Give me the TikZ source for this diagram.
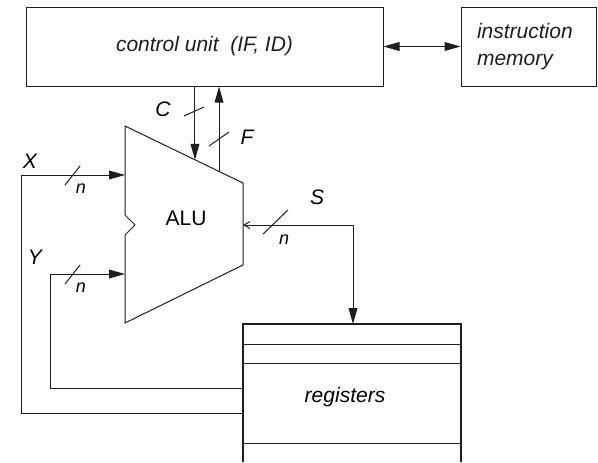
\documentclass[tikz,border=0pt]{standalone}
\usepackage{fontspec}
\setmainfont{Liberation Sans}
\usetikzlibrary{arrows.meta,calc,positioning}
\definecolor{cpuline}{RGB}{30,30,30}

\begin{document}
\begin{tikzpicture}[x=.5pt,y=-.5pt,>={Triangle[length=8pt,width=4.4pt]},line join=miter,
 every node/.style={font=\itshape\fontsize{10.5}{13.5}\selectfont},
 wire/.style={cpuline,line width=.5pt},
 busmark/.style={cpuline,line width=.5pt},
 buswidth/.style={font=\itshape\fontsize{9}{10}\selectfont},
 unitbox/.style={draw,wire,minimum height=39.5pt,inner sep=0pt}]
 \useasboundingbox (0,0) rectangle (598,462);
 \node[unitbox,minimum width=178.5pt] (cu) at (204.5,46.5)
  {control unit~~(IF, ID)\hspace{6pt}};
 \node[unitbox,minimum width=67.5pt,text width=51.5pt,inner xsep=8pt,align=left]
  (imem) at (528.5,46.5) {instruction\\memory};
 \draw[<->,wire] (cu.east) -- (imem.west);
 \coordinate (alutl) at (125,126);
 \coordinate (alutr) at (243,183);
 \coordinate (alubr) at (243,265);
 \coordinate (alubl) at (125,323);
 \draw[wire] (alutl) -- (alutr) -- (alubr) -- (alubl)
  -- (125,235) -- (135,225) -- (125,215) -- cycle;
 \node[font=\upshape\fontsize{10.5}{12}\selectfont] (alu) at (186,218) {ALU};
 \coordinate (cin) at ($(alutl)!.593!(alutr)$);
 \coordinate (fout) at ($(alutl)!.797!(alutr)$);
 \draw[->,wire] (cin |- cu.south) -- (cin);
 \draw[->,wire] (fout) -- (fout |- cu.south);
 \coordinate (xin) at (125,175);
 \coordinate (yin) at (125,274);
 \coordinate (sin) at (243,225);
 \draw[wire,line width=.7pt] (243,462) -- (243,324) -- (461,324) -- (461,462);
 \foreach \y in {344,363,443}
  \draw[wire] (243,\y) -- (461,\y);
 \node (regs) at (345,397) {registers};
 \coordinate (regx) at (243,413);
 \coordinate (regy) at (243,388);
 \coordinate (regin) at (353,324);
 \draw[->,wire] (regx) -| (21,175) -- (xin);
 \draw[->,wire] (regy) -| (50,274) -- (yin);
 \draw[{Straight Barb[length=3pt,width=3.5pt]}-{Triangle[length=8pt,width=4.4pt]},wire]
  (sin) -| (regin);
 \foreach \cx/\cy/\dx/\dy in {72.5/175.5/7.5/9.5,72.5/274.5/7.5/9.5,
   194/111.5/10/4.5,219/139/10/7,275.5/222/12.5/12}
  \draw[busmark] ({\cx-\dx},{\cy+\dy}) -- ({\cx+\dx},{\cy-\dy});
 \node (xlab) at (30,161) {X};
 \node (ylab) at (35,257) {Y};
 \node (clab) at (163,109) {C};
 \node (flab) at (247,137) {F};
 \node (slab) at (317,197) {S};
 \node[buswidth] (nx) at (81,189) {n};
 \node[buswidth] (ny) at (81,288) {n};
 \node[buswidth] (ns) at (284,240) {n};
\end{tikzpicture}
\end{document}
